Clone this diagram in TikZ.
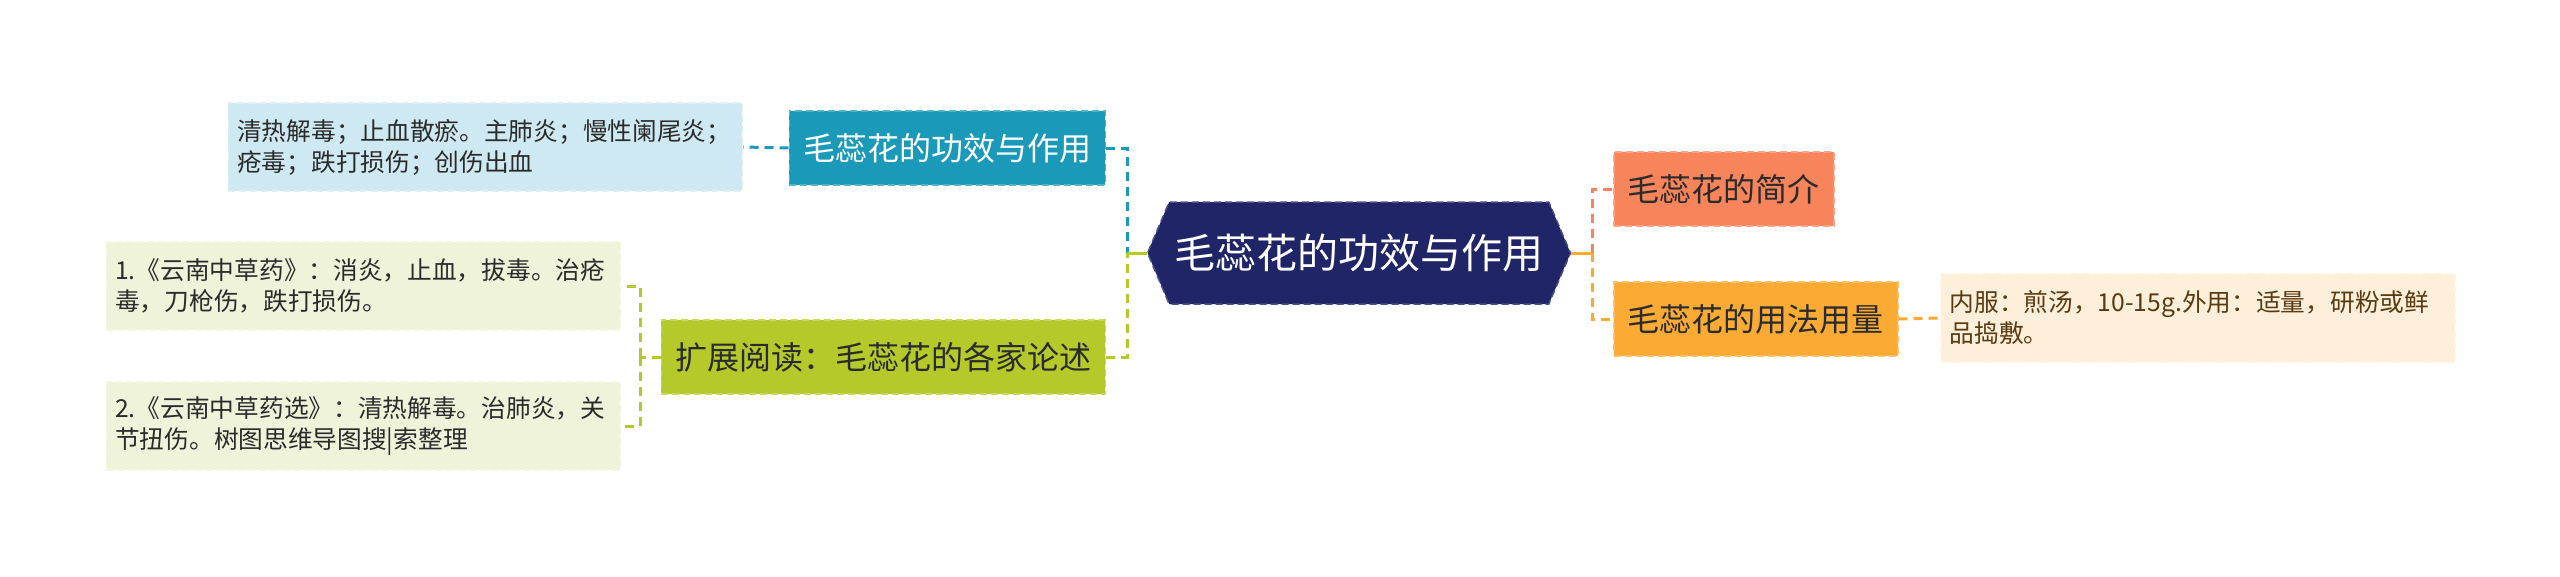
\documentclass[tikz,border=0pt]{standalone}
\usepackage{fontspec}
\setmainfont{Noto Sans CJK SC}
\usetikzlibrary{shapes.symbols}

\definecolor{rootnavy}{HTML}{1F2566}
\definecolor{tealbr}{HTML}{1A9AB8}
\definecolor{tealleaf}{HTML}{CFE9F2}
\definecolor{limebr}{HTML}{B5C92B}
\definecolor{limeleaf}{HTML}{EFF3DA}
\definecolor{coralbr}{HTML}{F7845A}
\definecolor{orangebr}{HTML}{FBAA34}
\definecolor{orangeleaf}{HTML}{FDEFD9}
\definecolor{inkgray}{HTML}{2B2B2B}
\definecolor{inkbrown}{HTML}{5A3A10}

\begin{document}
\begin{tikzpicture}[x=1pt, y=-1pt,
    branch/.style={rectangle, minimum height=74pt, inner xsep=14pt, font=\fontsize{32}{38}\selectfont},
    leaf/.style={rectangle, minimum height=88pt, text width=496pt, inner xsep=9pt, align=left, font=\fontsize{24.7}{31}\selectfont},
    rim/.style={dash pattern=on 7pt off 4pt, line width=1.5pt},
    link/.style={line width=3pt, dash pattern=on 9pt off 6pt}]
    \useasboundingbox[fill=white] (0,0) rectangle (2560,576);

    % centre
    \node[signal, signal to=west and east, signal pointer angle=134, fill=rootnavy, draw=rootnavy!80!white, rim,
      minimum width=423pt, minimum height=102pt, text=white, font=\fontsize{41}{46}\selectfont] (root) at (1359,253) {毛蕊花的功效与作用};

    % left side
    \node[branch, anchor=east, fill=tealbr, draw=tealbr!75!white, rim, text=white] (effect) at (1106,148) {毛蕊花的功效与作用};
    \node[leaf, anchor=east, fill=tealleaf, draw=tealleaf!70!white, rim, text=inkgray] (effectleaf) at (743,147)
      {清热解毒；止血散瘀。主肺炎；慢性阑尾炎；\\疮毒；跌打损伤；创伤出血};
    \node[branch, anchor=east, fill=limebr, draw=limebr!75!white, rim, text=inkgray] (reading) at (1106,357) {扩展阅读：毛蕊花的各家论述};
    \node[leaf, anchor=east, fill=limeleaf, draw=limeleaf!70!white, rim, text=inkgray] (readone) at (621,286)
      {1.《云南中草药》：消炎，止血，拔毒。治疮\\毒，刀枪伤，跌打损伤。};
    \node[leaf, anchor=east, fill=limeleaf, draw=limeleaf!70!white, rim, text=inkgray] (readtwo) at (621,426)
      {2.《云南中草药选》：清热解毒。治肺炎，关\\节扭伤。树图思维导图搜|索整理};

    % right side
    \node[branch, anchor=west, fill=coralbr, draw=coralbr!75!white, rim, text=inkgray] (intro) at (1613,189) {毛蕊花的简介};
    \node[branch, anchor=west, fill=orangebr, draw=orangebr!75!white, rim, text=inkgray] (usage) at (1613,319) {毛蕊花的用法用量};
    \node[leaf, anchor=west, fill=orangeleaf, draw=orangeleaf!70!white, rim, text=inkbrown] (usageleaf) at (1940,318)
      {内服：煎汤，10-15g.外用：适量，研粉或鲜\\品捣敷。};

    \coordinate (jl) at (1127,253);
    \coordinate (jr) at (1592,253);
    \coordinate (jb) at (640,357);

    \draw[link, tealbr] (effect.east) -| (jl);
    \draw[link, limebr] (reading.east) -| (jl);
    \draw[line width=3pt, limebr] (jl) -- (root.west);
    \draw[line width=3pt, orangebr] (root.east) -- (jr);
    \draw[link, coralbr] (jr) |- (intro.west);
    \draw[link, orangebr] (jr) |- (usage.west);

    \draw[link, tealbr] (effect.west) -- (effectleaf.east);
    \draw[link, limebr] (reading.west) -- (jb);
    \draw[link, limebr] (jb) |- (readone.east);
    \draw[link, limebr] (jb) |- (readtwo.east);
    \draw[link, orangebr] (usage.east) -- (usageleaf.west);
\end{tikzpicture}
\end{document}
